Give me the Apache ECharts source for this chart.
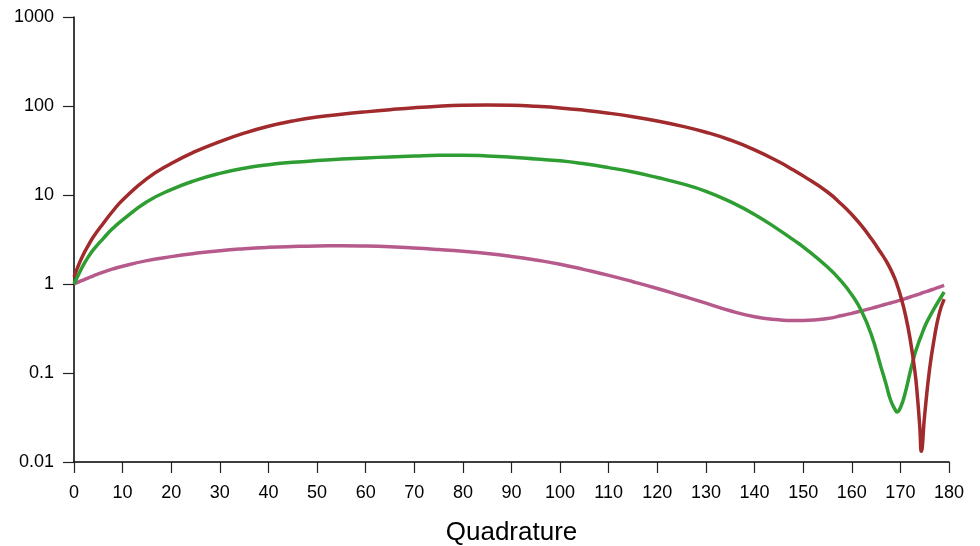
<!DOCTYPE html>
<html>
<head>
<meta charset="utf-8">
<style>
  html, body { margin: 0; padding: 0; background: #fff; }
  #chart { width: 980px; height: 546px; }
</style>
<script src="https://cdn.jsdelivr.net/npm/echarts@6/dist/echarts.min.js"></script>
</head>
<body>
<div id="chart"></div>
<script>
// Quadrature angle (degrees) shared by all three curves
const angles = [0, 1, 2, 3, 4, 6, 8, 10, 15, 20, 25, 30, 35, 40, 45, 50, 55, 60, 65, 70, 75, 80,
  85, 90, 95, 100, 105, 110, 115, 120, 125, 130, 135, 140, 145, 148, 150, 155, 158, 160, 162,
  164, 166, 167, 168, 169, 169.3, 170, 171, 172, 173, 173.5, 174, 174.3, 175, 176, 177, 178, 179];

const redValues = [1.2, 1.66, 2.19, 2.75, 3.39, 4.79, 6.61, 8.79, 15.3, 22.6, 30.9, 39.8, 49.5,
  59.2, 67.8, 75.2, 80.7, 85.9, 90.8, 95.5, 99.3, 101.9, 102.8, 101.9, 99.1, 95.1, 89.5, 83.0,
  75.7, 67.8, 59.4, 50.7, 41.5, 32.2, 23.6, 19.1, 16.4, 10.8, 7.76, 6.03, 4.52, 3.24, 2.24, 1.84,
  1.46, 1.1, 0.989, 0.746, 0.46, 0.242, 0.103, 0.0547, 0.0244, 0.0132, 0.034, 0.11, 0.251, 0.468,
  0.676];

const greenValues = [1.0, 1.3, 1.66, 2.04, 2.43, 3.24, 4.22, 5.25, 8.4, 11.5, 14.6, 17.5, 20.0,
  21.9, 23.3, 24.4, 25.3, 26.1, 26.8, 27.4, 27.9, 28.0, 27.5, 26.6, 25.4, 24.2, 22.4, 20.3, 18.1,
  15.7, 13.4, 11.0, 8.41, 6.05, 4.06, 3.13, 2.62, 1.55, 1.05, 0.757, 0.497, 0.272, 0.117, 0.0766,
  0.0494, 0.038, 0.0365, 0.0407, 0.06, 0.102, 0.166, 0.2, 0.24, 0.263, 0.331, 0.427, 0.537, 0.661,
  0.813];

const pinkValues = [1.0, 1.057, 1.114, 1.175, 1.236, 1.358, 1.476, 1.585, 1.83, 2.03, 2.21, 2.37,
  2.49, 2.58, 2.64, 2.68, 2.69, 2.67, 2.62, 2.54, 2.44, 2.33, 2.2, 2.04, 1.86, 1.67, 1.45, 1.25,
  1.06, 0.89, 0.738, 0.61, 0.5, 0.429, 0.396, 0.388, 0.389, 0.409, 0.442, 0.468, 0.499, 0.533,
  0.571, 0.592, 0.612, 0.635, 0.643, 0.659, 0.685, 0.715, 0.745, 0.76, 0.776, 0.787, 0.811, 0.845,
  0.883, 0.923, 0.964];

const yTickLabels = ['0.01', '0.1', '1', '10', '100', '1000'];
const xAxisTitle = 'Quadrature';

const pair = vals => angles.map((a, i) => [a, vals[i]]);

const font = 'Liberation Sans, Arial, sans-serif';

const chart = echarts.init(document.getElementById('chart'), null, { renderer: 'canvas' });

const lineSeries = (vals, color) => ({
  type: 'line',
  data: pair(vals),
  showSymbol: false,
  smooth: 0.5,
  lineStyle: { color: color, width: 3.5 },
  itemStyle: { color: color },
  animation: false
});

chart.setOption({
  animation: false,
  backgroundColor: '#ffffff',
  grid: {
    left: 74, right: 31, top: 17, bottom: 84,
    containLabel: false,
    outerBoundsMode: 'none'
  },
  xAxis: {
    type: 'value',
    min: 0,
    max: 180,
    interval: 10,
    name: xAxisTitle,
    nameLocation: 'middle',
    nameGap: 58,
    nameTextStyle: { fontFamily: font, fontSize: 26, color: '#000' },
    axisLine: { onZero: false, lineStyle: { color: '#000', width: 1.5 } },
    axisTick: { show: true, length: 11, lineStyle: { color: '#222', width: 1.2 } },
    axisLabel: { fontFamily: font, fontSize: 18, color: '#000', margin: 22 },
    splitLine: { show: false }
  },
  yAxis: {
    type: 'log',
    logBase: 10,
    min: 0.01,
    max: 1000,
    interval: 1,
    axisLine: { show: true, lineStyle: { color: '#000', width: 1.5 } },
    axisTick: { show: true, length: 11, lineStyle: { color: '#222', width: 1.2 } },
    axisLabel: {
      fontFamily: font, fontSize: 18, color: '#000', margin: 20,
      formatter: v => yTickLabels[Math.round(Math.log10(v)) + 2]
    },
    splitLine: { show: false }
  },
  series: [
    lineSeries(pinkValues, '#b65a8c'),
    lineSeries(greenValues, '#2f9e32'),
    lineSeries(redValues, '#a02a2c')
  ]
});
</script>
</body>
</html>
